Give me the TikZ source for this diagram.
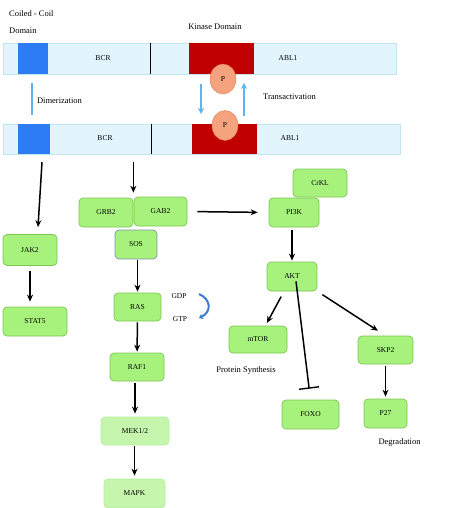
\documentclass[tikz,border=0pt]{standalone}
\usepackage{fontspec}
\setmainfont{Liberation Serif}
\usetikzlibrary{shapes.geometric, arrows, arrows.meta}
\usetikzlibrary{shapes,positioning}
\tikzstyle{arrow} = [line width=1.5pt,-{Stealth[length=7pt,width=6pt]}]
\definecolor{barblue}{HTML}{E2F5FD}
\definecolor{barline}{HTML}{C3E4F4}
\definecolor{ccblue}{HTML}{2E7CF4}
\definecolor{kinred}{HTML}{C00000}
\definecolor{pfill}{HTML}{F5A37E}
\definecolor{pline}{HTML}{E27B4E}
\definecolor{boxgreen}{HTML}{A7F27D}
\definecolor{boxline}{HTML}{7CC652}
\definecolor{lightgreen}{HTML}{C6F6AE}
\definecolor{lightline}{HTML}{B4EE9C}
\definecolor{sosline}{HTML}{7E93AE}
\definecolor{skyarrow}{HTML}{5EB4F0}
\definecolor{gtparrow}{HTML}{3D7CC9}

\begin{document}
\begin{tikzpicture}[x=1pt, y=-1pt,
        box/.style={draw=boxline, fill=boxgreen, rounded corners=4pt, line width=0.7pt, inner sep=0pt, font=\fontsize{7.5}{8}\selectfont},
        lightbox/.style={box, draw=lightline, fill=lightgreen},
        bar/.style={draw=barline, fill=barblue, line width=0.8pt, inner sep=0pt},
        block/.style={inner sep=0pt, minimum height=30pt},
        phos/.style={draw=pline, fill=pfill, ellipse, inner sep=0pt, minimum width=26pt, minimum height=30pt, font=\fontsize{7.5}{8}\selectfont},
        label/.style={inner sep=0pt, font=\fontsize{8.5}{10}\selectfont},
        small/.style={inner sep=0pt, font=\fontsize{7.5}{8}\selectfont}]
    \useasboundingbox (0,0) rectangle (454,508);
    % first fusion protein
    \node (bar1) [bar, minimum width=393pt, minimum height=31pt] at (199.5,58.5) {};
    \node (cc1) [block, fill=ccblue, minimum width=30pt, minimum height=31pt] at (33,58.5) {};
    \node (kin1) [block, fill=kinred, minimum width=65pt, minimum height=31pt] at (221.5,58.5) {};
    \draw[line width=0.9pt] (150,43) -- (150,74);
    \node (bcr1) [small] at (103,58) {BCR};
    \node (abl1) [small] at (288,58) {ABL1};
    % second fusion protein
    \node (bar2) [bar, minimum width=397pt, minimum height=30pt] at (201.5,139) {};
    \node (cc2) [block, fill=ccblue, minimum width=32pt] at (34,139) {};
    \node (kin2) [block, fill=kinred, minimum width=65pt] at (224.5,139) {};
    \draw[line width=0.9pt] (151,124) -- (151,154);
    \node (bcr2) [small] at (105,138) {BCR};
    \node (abl2) [small] at (290,138) {ABL1};
    \node (p1) [phos] at (223,79) {P};
    \node (p2) [phos] at (225,125.5) {P};
    % labels on top
    \node (coil) [label, anchor=west] at (9,14) {Coiled - Coil};
    \node (domain) [label, anchor=west] at (9,31) {Domain};
    \node (kinase) [label] at (215,27) {Kinase Domain};
    \node (dimer) [label] at (59.5,101) {Dimerization};
    \node (trans) [label] at (289.5,97) {Transactivation};
    \coordinate (dimtop) at (32,83);
    \coordinate (dimbot) at (32,115);
    \coordinate (downtop) at (201,84);
    \coordinate (downbot) at (201,114);
    \coordinate (uptop) at (244,83);
    \coordinate (upbot) at (244,116);
    \draw[skyarrow, line width=1.4pt] (dimtop) -- (dimbot);
    \draw[skyarrow, line width=1.4pt, -{Stealth[length=6pt,width=6pt]}] (downtop) -- (downbot);
    \draw[skyarrow, line width=1.4pt, -{Stealth[length=6pt,width=6pt]}] (upbot) -- (uptop);
    % left branch
    \node (jak2) [box, minimum width=54pt, minimum height=31pt] at (30,250) {JAK2};
    \node (stat5) [box, minimum width=64pt, minimum height=29pt] at (35,321.5) {STAT5};
    % middle branch
    \node (grb2) [box, minimum width=54pt, minimum height=29pt] at (106,212.5) {GRB2};
    \node (gab2) [box, minimum width=53pt, minimum height=29pt] at (160.5,211.5) {GAB2};
    \node (sos) [box, draw=sosline, minimum width=42pt, minimum height=29pt] at (136,244.5) {SOS};
    \node (ras) [box, minimum width=47pt, minimum height=28pt] at (137.5,307) {RAS};
    \node (gdp) [small] at (179,296) {GDP};
    \node (gtp) [small] at (180,319) {GTP};
    \node (raf1) [box, minimum width=54pt, minimum height=28pt] at (137,367) {RAF1};
    \node (mek) [lightbox, minimum width=68pt, minimum height=28pt] at (135,431) {MEK1/2};
    \node (mapk) [lightbox, minimum width=61pt, minimum height=29pt] at (134.5,493.5) {MAPK};
    % right branch
    \node (crkl) [box, minimum width=54pt, minimum height=28pt] at (320,183) {CrKL};
    \node (pi3k) [box, minimum width=50pt, minimum height=29pt] at (294,212.5) {PI3K};
    \node (akt) [box, minimum width=50pt, minimum height=29pt] at (292,276.5) {AKT};
    \node (mtor) [box, minimum width=58pt, minimum height=27pt] at (258,339.5) {mTOR};
    \node (synth) [label] at (246,370) {Protein Synthesis};
    \node (foxo) [box, minimum width=57pt, minimum height=29pt] at (310.5,414.5) {FOXO};
    \node (skp2) [box, minimum width=55pt, minimum height=28pt] at (385.5,350) {SKP2};
    \node (p27) [box, minimum width=43pt, minimum height=29pt] at (385.5,413.5) {P27};
    \node (degr) [label] at (399.5,442) {Degradation};

    % connectors
    \draw[arrow] ([xshift=8pt,yshift=-8pt]cc2.south) -- ([xshift=8pt,yshift=7pt]jak2.north);
    \draw[arrow, shorten <=5pt, shorten >=5pt] (jak2.south) -- (jak2.south |- stat5.north);
    \draw[arrow] ([yshift=-8pt]bar2.south -| grb2.east) -- ([yshift=5pt]grb2.north east);
    \draw[arrow, shorten <=10pt, shorten >=11pt] (gab2.east) -- (pi3k.west);
    \draw[arrow, shorten <=1pt, shorten >=1pt] (sos.south -| ras) -- (ras.north);
    \draw[arrow, shorten <=1pt, shorten >=1pt] (ras) -- (raf1);
    \draw[arrow, shorten <=2pt, shorten >=3pt] (raf1.south -| mek) -- (mek.north);
    \draw[arrow, shorten <=1pt, shorten >=3pt] (mek.south -| mapk) -- (mapk.north);
    \draw[arrow, shorten <=3pt, shorten >=1pt] (pi3k.south -| akt) -- (akt.north);
    \draw[arrow, shorten <=6pt, shorten >=3pt] (akt) -- (mtor);
    \draw[arrow, shorten <=6pt, shorten >=9pt] (akt.south east) -- (skp2.north);
    \draw[line width=1.5pt, -{Bar[width=20pt,line width=1.4pt]}, shorten >=11pt] ([xshift=4pt,yshift=10pt]akt.south) -- (foxo.north);
    \draw[arrow, shorten <=2pt, shorten >=2pt] (skp2) -- (p27);
    \coordinate (gdpend) at (199,294);
    \coordinate (gtpend) at (199,318);
    \draw[gtparrow, line width=2pt, -{Stealth[length=4pt,width=6pt]}] (gdpend) .. controls (211,299) and (212,312) .. (gtpend);
\end{tikzpicture}
\end{document}
